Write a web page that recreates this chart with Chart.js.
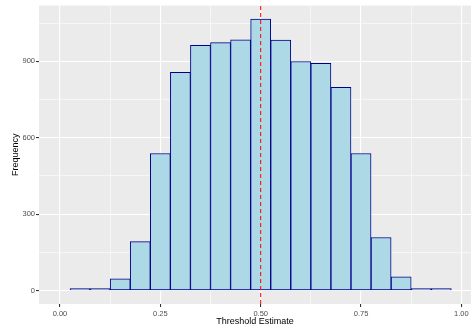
<!DOCTYPE html>
<html>
<head>
<meta charset="utf-8">
<script src="https://cdn.jsdelivr.net/npm/chart.js@4/dist/chart.umd.min.js"></script>
<style>
  body { margin: 0; background: #fff; }
</style>
</head>
<body>
<canvas id="myChart" width="474" height="331"></canvas>
<script>
// bin centres (width 0.05) and counts per bin
var binCenters = [0.05, 0.10, 0.15, 0.20, 0.25, 0.30, 0.35, 0.40, 0.45, 0.50,
                  0.55, 0.60, 0.65, 0.70, 0.75, 0.80, 0.85, 0.90, 0.95];
var counts = [1, 3, 46, 192, 538, 857, 963, 973, 984, 1066,
              983, 899, 892, 798, 538, 208, 54, 3, 1];
var threshold = 0.5;

// tick positions: labelled ones plus the minor grid in between
var xTicks = [0, 0.125, 0.25, 0.375, 0.5, 0.625, 0.75, 0.875, 1];
var xLabels = ['0.00', '', '0.25', '', '0.50', '', '0.75', '', '1.00'];
var yTicks = [0, 150, 300, 450, 600, 750, 900, 1050];
var yLabels = ['0', '', '300', '', '600', '', '900', ''];

var yMin = -53, yMax = 1119;

var panelBg = {
  id: 'panelBg',
  beforeDraw: function(chart){
    var a = chart.chartArea, c = chart.ctx;
    c.save();
    c.fillStyle = '#EBEBEB';
    c.fillRect(a.left, a.top, a.right - a.left, a.bottom - a.top);
    c.restore();
  }
};

function isMajorY(v){ return v % 300 === 0; }
function isMajorX(v){ return Math.round(v * 1000) % 250 === 0; }

var ctx = document.getElementById('myChart');
var myChart = new Chart(ctx, {
  type: 'bar',
  data: {
    datasets: [
      {
        type: 'line',
        data: [{x: threshold, y: yMin}, {x: threshold, y: yMax}],
        borderColor: '#FF0000',
        borderWidth: 1,
        borderDash: [4, 3],
        pointRadius: 0,
        order: 0
      },
      {
        data: binCenters.map(function(x, i){ return {x: x, y: counts[i]}; }),
        backgroundColor: '#ADD8E6',
        borderColor: '#00008B',
        borderWidth: 1,
        borderSkipped: false,
        minBarLength: 2,
        barPercentage: 1,
        categoryPercentage: 1,
        order: 1
      }
    ]
  },
  plugins: [panelBg],
  options: {
    responsive: false,
    animation: false,
    layout: { padding: { top: 5, right: 3, left: 0, bottom: 0 } },
    plugins: {
      legend: { display: false },
      tooltip: { enabled: false }
    },
    scales: {
      x: {
        type: 'linear',
        min: -0.0523,
        max: 1.024,
        offset: false,
        border: { display: false },
        grid: {
          offset: false,
          tickLength: 3,
          color: '#FFFFFF',
          lineWidth: function(c){ return c.tick && isMajorX(c.tick.value) ? 1.1 : 0.55; },
          tickColor: function(c){ return c.tick && isMajorX(c.tick.value) ? '#333333' : 'rgba(0,0,0,0)'; }
        },
        ticks: {
          autoSkip: false,
          maxRotation: 0,
          padding: 2,
          color: '#4D4D4D',
          font: { family: 'Liberation Sans', size: 7.5 },
          callback: function(v, i){ return xLabels[i]; }
        },
        afterBuildTicks: function(s){ s.ticks = xTicks.map(function(v){ return {value: v}; }); },
        afterFit: function(s){ s.height = 27; },
        title: {
          display: true,
          text: 'Threshold Estimate',
          color: '#000000',
          font: { family: 'Liberation Sans', size: 9 },
          padding: { top: 0, bottom: 4.5 }
        }
      },
      y: {
        min: yMin,
        max: yMax,
        border: { display: false },
        grid: {
          tickLength: 3,
          color: '#FFFFFF',
          lineWidth: function(c){ return c.tick && isMajorY(c.tick.value) ? 1.1 : 0.55; },
          tickColor: function(c){ return c.tick && isMajorY(c.tick.value) ? '#333333' : 'rgba(0,0,0,0)'; }
        },
        ticks: {
          autoSkip: false,
          padding: 1,
          color: '#4D4D4D',
          font: { family: 'Liberation Sans', size: 7.5 },
          callback: function(v, i){ return yLabels[i]; }
        },
        afterBuildTicks: function(s){ s.ticks = yTicks.map(function(v){ return {value: v}; }); },
        afterFit: function(s){ s.width = 39; },
        title: {
          display: true,
          text: 'Frequency',
          color: '#000000',
          font: { family: 'Liberation Sans', size: 9 },
          padding: { top: 10, bottom: 0 }
        }
      }
    }
  }
});
</script>
</body>
</html>
